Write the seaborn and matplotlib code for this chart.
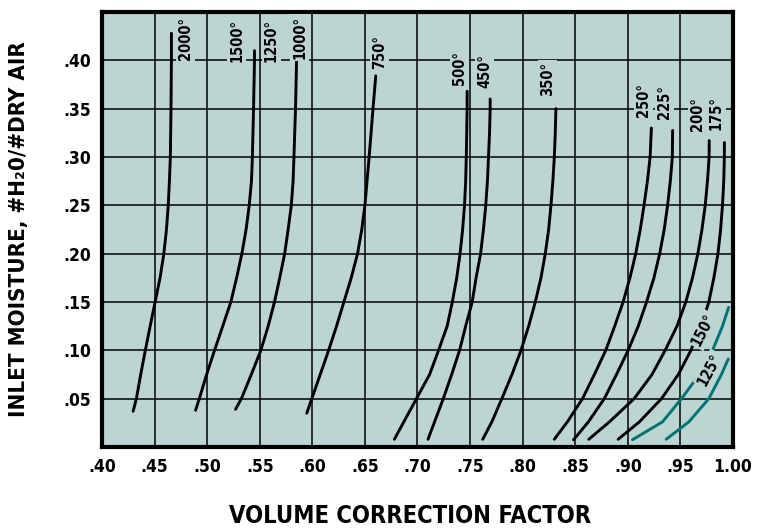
import numpy as np
import pandas as pd
import matplotlib
matplotlib.use("Agg")
import matplotlib.pyplot as plt
import seaborn as sns

# curves: volume correction factor (x) vs inlet moisture (y)
f_2000 = [0.4296, 0.4327, 0.4368, 0.4412, 0.4458, 0.4505, 0.4552, 0.4588, 0.4613, 0.4630, 0.4641, 0.4650, 0.4656, 0.466, 0.466]
m_2000 = [0.037, 0.05, 0.075, 0.10, 0.125, 0.15, 0.175, 0.20, 0.225, 0.25, 0.275, 0.30, 0.35, 0.40, 0.428]
f_1250 = [0.489, 0.4925, 0.4995, 0.507, 0.5148, 0.5225, 0.528, 0.533, 0.537, 0.540, 0.5421, 0.543, 0.5441, 0.545, 0.545]
m_1250 = [0.038, 0.05, 0.075, 0.10, 0.125, 0.15, 0.175, 0.20, 0.225, 0.25, 0.275, 0.30, 0.35, 0.40, 0.41]
f_1000 = [0.527, 0.5325, 0.542, 0.551, 0.558, 0.564, 0.569, 0.5737, 0.577, 0.580, 0.5817, 0.5825, 0.584, 0.585]
m_1000 = [0.039, 0.05, 0.075, 0.10, 0.125, 0.15, 0.175, 0.20, 0.225, 0.25, 0.275, 0.30, 0.35, 0.399]
f_750 = [0.5947, 0.5995, 0.6075, 0.6155, 0.623, 0.630, 0.637, 0.643, 0.647, 0.650, 0.652, 0.654, 0.6577, 0.6603]
m_750 = [0.035, 0.05, 0.075, 0.10, 0.125, 0.15, 0.175, 0.20, 0.225, 0.25, 0.275, 0.30, 0.35, 0.384]
f_500 = [0.678, 0.699, 0.7115, 0.720, 0.7282, 0.7331, 0.7373, 0.7405, 0.7429, 0.7447, 0.7458, 0.7464, 0.7468, 0.7472, 0.7472]
m_500 = [0.008, 0.05, 0.075, 0.10, 0.125, 0.15, 0.175, 0.20, 0.225, 0.25, 0.275, 0.30, 0.325, 0.35, 0.368]
f_450 = [0.710, 0.7245, 0.7325, 0.740, 0.7458, 0.752, 0.7557, 0.760, 0.7627, 0.7649, 0.7665, 0.7675, 0.7685, 0.7691, 0.7691]
m_450 = [0.008, 0.05, 0.075, 0.10, 0.125, 0.15, 0.175, 0.20, 0.225, 0.25, 0.275, 0.30, 0.325, 0.35, 0.36]
f_350 = [0.762, 0.7707, 0.7802, 0.7898, 0.7984, 0.8057, 0.812, 0.8174, 0.8215, 0.8247, 0.8269, 0.8287, 0.8301, 0.831, 0.8316]
m_350 = [0.008, 0.026, 0.05, 0.075, 0.10, 0.125, 0.15, 0.175, 0.20, 0.225, 0.25, 0.275, 0.30, 0.325, 0.35]
f_250 = [0.8301, 0.8425, 0.8569, 0.8682, 0.879, 0.8875, 0.8955, 0.902, 0.9075, 0.9118, 0.9154, 0.9186, 0.9212, 0.9224]
m_250 = [0.008, 0.026, 0.05, 0.075, 0.10, 0.125, 0.15, 0.175, 0.20, 0.225, 0.25, 0.275, 0.30, 0.33]
f_225 = [0.8484, 0.8625, 0.8776, 0.8892, 0.9003, 0.9099, 0.9178, 0.9248, 0.9303, 0.9346, 0.9378, 0.9404, 0.9423, 0.9426]
m_225 = [0.0075, 0.026, 0.05, 0.075, 0.10, 0.125, 0.15, 0.175, 0.20, 0.225, 0.25, 0.275, 0.30, 0.3275]
f_200 = [0.8629, 0.8825, 0.906, 0.923, 0.9355, 0.9467, 0.9551, 0.9615, 0.9666, 0.9705, 0.9736, 0.9757, 0.9773, 0.9774]
m_200 = [0.008, 0.026, 0.05, 0.075, 0.10, 0.125, 0.15, 0.175, 0.20, 0.225, 0.25, 0.275, 0.30, 0.317]
f_175 = [0.8908, 0.911, 0.932, 0.948, 0.960, 0.9696, 0.977, 0.9818, 0.9857, 0.9882, 0.990, 0.9912, 0.9918, 0.9918]
m_175 = [0.008, 0.026, 0.05, 0.075, 0.10, 0.125, 0.15, 0.175, 0.20, 0.225, 0.25, 0.275, 0.30, 0.315]
f_150 = [0.9044, 0.933, 0.951, 0.968, 0.9805, 0.990, 0.9958]
m_150 = [0.0075, 0.026, 0.05, 0.075, 0.10, 0.125, 0.1444]
f_125 = [0.9365, 0.958, 0.977, 0.989, 0.9955]
m_125 = [0.008, 0.026, 0.05, 0.075, 0.0911]

curves = {
    "2000": (f_2000, m_2000), "1250": (f_1250, m_1250), "1000": (f_1000, m_1000),
    "750": (f_750, m_750), "500": (f_500, m_500), "450": (f_450, m_450),
    "350": (f_350, m_350), "250": (f_250, m_250), "225": (f_225, m_225),
    "200": (f_200, m_200), "175": (f_175, m_175), "150": (f_150, m_150),
    "125": (f_125, m_125),
}

# temperature labels: (x, y, rotation)
labels = {
    "2000°": (0.479, 0.423, 90), "1500°": (0.528, 0.421, 90),
    "1250°": (0.561, 0.421, 90), "1000°": (0.588, 0.424, 90),
    "750°": (0.664, 0.409, 90), "500°": (0.740, 0.392, 90),
    "450°": (0.764, 0.389, 90), "350°": (0.824, 0.381, 90),
    "250°": (0.915, 0.359, 90), "225°": (0.935, 0.357, 90),
    "200°": (0.966, 0.3445, 90), "175°": (0.984, 0.3455, 90),
    "150°": (0.972, 0.121, 63), "125°": (0.978, 0.080, 62),
}

x_ticks = [0.40, 0.45, 0.50, 0.55, 0.60, 0.65, 0.70, 0.75, 0.80, 0.85, 0.90, 0.95, 1.00]
x_tick_labels = [".40", ".45", ".50", ".55", ".60", ".65", ".70", ".75", ".80", ".85", ".90", ".95", "1.00"]
y_ticks = [0.05, 0.10, 0.15, 0.20, 0.25, 0.30, 0.35, 0.40]
y_tick_labels = [".05", ".10", ".15", ".20", ".25", ".30", ".35", ".40"]

rows = []
for t, (fs, ms) in curves.items():
    for f, m in zip(fs, ms):
        rows.append({"temp": t, "factor": f, "moisture": m})
df = pd.DataFrame(rows)

bg = "#bdd5d2"
teal = "#007474"
palette = {t: (teal if t in ("150", "125") else "black") for t in curves}

sns.set_theme(style="white")
plt.rcParams['font.family'] = ['DejaVu Sans']
plt.rcParams['font.stretch'] = 'condensed'
plt.rcParams['font.weight'] = 'bold'

fig, ax = plt.subplots(figsize=(7.61, 5.28), dpi=100)
fig.subplots_adjust(left=102/761, right=733/761, bottom=81/528, top=516/528)
ax.set_facecolor(bg)

sns.lineplot(data=df, x="factor", y="moisture", hue="temp", units="temp",
             estimator=None, sort=False, palette=palette, linewidth=2.1,
             legend=False, ax=ax, zorder=3)

for txt, (x, y, rot) in labels.items():
    ax.text(x, y, txt, rotation=rot, ha="center", va="center", fontsize=10.5,
            fontweight="bold", color="black", zorder=4,
            bbox=dict(facecolor=bg, edgecolor="none", pad=1.5))

ax.set_xlim(0.40, 1.00)
ax.set_ylim(0, 0.45)
ax.set_xticks(x_ticks)
ax.set_xticklabels(x_tick_labels)
ax.set_yticks(y_ticks)
ax.set_yticklabels(y_tick_labels)
ax.tick_params(length=0, pad=8, labelsize=12.5, colors="black")
for lab in ax.get_xticklabels() + ax.get_yticklabels():
    lab.set_fontweight("bold")

ax.grid(True, color="black", linewidth=1.1)
ax.set_axisbelow(True)
for sp in ax.spines.values():
    sp.set_color("black")
    sp.set_linewidth(3)

ax.set_xlabel("VOLUME CORRECTION FACTOR", fontsize=17, fontweight="bold", color="black")
ax.set_ylabel("INLET MOISTURE, #H₂0/#DRY AIR", fontsize=16, fontweight="bold", color="black")
ax.xaxis.set_label_coords(0.488, -0.13)
ax.yaxis.set_label_coords(-0.115, 0.5)

fig.savefig("out.png", dpi=100)
